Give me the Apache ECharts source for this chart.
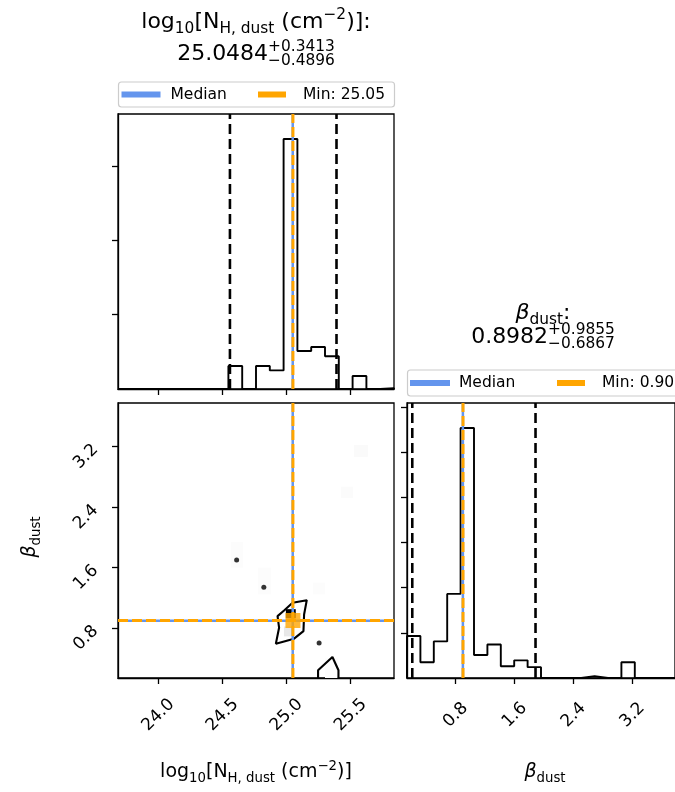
<!DOCTYPE html>
<html><head><meta charset="utf-8">
<script src="https://cdn.jsdelivr.net/npm/echarts@6/dist/echarts.min.js"></script>
<style>html,body{margin:0;padding:0;background:#fff}#c{width:675px;height:792px}</style>
</head><body><div id="c"></div>
<script>
// ---------------- data ----------------
const nhRange = [23.686, 25.838];
const nhCounts = [0,0,0,0,0,0,0,0,0.31,0,0.31,0.25,3.36,0.51,0.565,0.44,0,0.175,0,0.01];
const betaRange = [0.14, 3.776];
const betaCounts = [0.93,0.35,0.81,1.86,5.53,0.51,0.74,0.26,0.39,0.24,0,0,0,0.04,0,0,0.35,0,0,0];
const nhMedian = 25.0484, nhErrUp = 0.3413, nhErrDown = 0.4896;
const betaMedian = 0.8982, betaErrUp = 0.9855, betaErrDown = 0.6867;
const nhBest = 25.05, betaBest = 0.90;
const nhTicks = [24.0, 24.5, 25.0, 25.5];
const betaTicks = [0.8, 1.6, 2.4, 3.2];
const nhHistTicks = [1, 2, 3];
const betaHistTicks = [1, 2, 3, 4, 5, 6];
const contourInner = [[24.981,1.033],[25.047,1.135],[25.158,1.169],[25.137,0.980],[25.132,0.760],[25.059,0.660],[24.917,0.594],[24.942,0.805],[24.930,0.958],[24.981,1.033]];
const contourLower = [[25.246,0.14],[25.246,0.243],[25.358,0.418],[25.405,0.243],[25.405,0.14]];
const contourDots = [[24.611,1.701],[24.823,1.340],[25.254,0.602]];
// density cells: [x0, x1, y0, y1, level 0..1]
const densityCells = [
  [24.995,25.072,0.930,1.050,1.0],
  [24.980,25.058,0.690,0.822,0.09],
  [25.525,25.634,3.064,3.222,0.018],
  [25.424,25.518,2.520,2.670,0.015],
  [24.566,24.660,1.600,1.940,0.012],
  [24.776,24.878,1.244,1.600,0.012],
  [25.205,25.300,1.244,1.400,0.012],
  [25.300,25.400,0.140,0.400,0.012]
];

// ---------------- helpers ----------------
const FF = '"DejaVu Sans", sans-serif';
const BLUE = '#6495ED', ORANGE = '#FFA500';
const ctx = document.createElement('canvas').getContext('2d');
function tw(t, size, italic) { ctx.font = (italic ? 'italic ' : '') + size + 'px ' + FF; return ctx.measureText(t).width; }
function txt(t, x, baseY, size, italic) {
  return {type:'text', x:x, y:baseY - 0.346*size, silent:true,
    style:{text:t, fontSize:size, fontFamily:FF, fontStyle: italic?'italic':'normal', fill:'#000',
      align:'left', verticalAlign:'middle', textAlign:'left', textVerticalAlign:'middle'}};
}
function mathGroup(pieces, S, cx, by, rot) {
  const kids = []; let x = 0;
  pieces.forEach(p => {
    if (p.stack) {
      const s = 0.7*S;
      kids.push(txt(p.stack[0], x, -0.46*S, s, false));
      kids.push(txt(p.stack[1], x, 0.2*S, s, false));
      x += Math.max(tw(p.stack[0], s), tw(p.stack[1], s));
    } else {
      const small = (p.k === 'b' || p.k === 'p');
      const s = small ? 0.7*S : S;
      const shift = p.k === 'b' ? -0.2*S : (p.k === 'p' ? 0.42*S : 0);
      kids.push(txt(p.t, x, -shift, s, p.k === 'i'));
      x += tw(p.t, s, p.k === 'i');
    }
  });
  kids.forEach(k => { k.x -= x/2; });
  return {type:'group', x:cx, y:by, rotation:rot || 0, children:kids};
}
function stepData(range, counts) {
  const n = counts.length, w = (range[1]-range[0])/n;
  const pts = [[range[0], 0]];
  for (let i = 0; i < n; i++) { const a = range[0]+i*w; pts.push([a, counts[i]], [a+w, counts[i]]); }
  pts.push([range[1], 0]);
  return pts;
}
const nhYMax = 1.1*Math.max(...nhCounts);
const betaYMax = 1.1*Math.max(...betaCounts);

const nhLabel = [{t:'log',k:'n'},{t:'10',k:'b'},{t:'[N',k:'n'},{t:'H, dust',k:'b'},{t:' (cm',k:'n'},{t:'\u22122',k:'p'},{t:')]',k:'n'}];
const betaLabel = [{t:'\u03b2',k:'i'},{t:'dust',k:'b'}];
const fmt4 = v => v.toFixed(4);

function lineSeries(name, x, y, data, color, width, type, z) {
  return {type:'line', name:name, xAxisIndex:x, yAxisIndex:y, data:data, symbol:'none', silent:true,
    lineStyle:{color:color, width:width, type:type || 'solid'}, itemStyle:{color:color}, z:z || 2};
}

const axisCommon = {axisLine:{show:true, onZero:false, lineStyle:{color:'#000', width:1.3}}, splitLine:{show:false}};
function xAx(grid, range, ticks, labels) {
  return Object.assign({type:'value', gridIndex:grid, min:range[0], max:range[1], position:'bottom',
    axisTick:{show:true, inside:false, length:6, lineStyle:{color:'#000', width:1.3}, customValues:ticks},
    axisLabel:{show:labels, customValues:ticks, rotate:45, align:'center', verticalAlign:'middle', margin:37,
      fontSize:17, fontFamily:FF, color:'#000', formatter:v => v.toFixed(1)}}, axisCommon);
}
function yAx(grid, range, ticks, labels) {
  return Object.assign({type:'value', gridIndex:grid, min:range[0], max:range[1], position:'left',
    axisTick:{show:true, inside:false, length:6, lineStyle:{color:'#000', width:1.3}, customValues:ticks},
    axisLabel:{show:labels, customValues:ticks, rotate:45, align:'center', verticalAlign:'top', lineHeight:28, margin:42,
      fontSize:17, fontFamily:FF, color:'#000', formatter:v => v.toFixed(1)}}, axisCommon);
}

const series = [];
// NH histogram panel
series.push(lineSeries('q1', 0, 0, [[nhMedian-nhErrDown,0],[nhMedian-nhErrDown,nhYMax]], '#000', 2.6, [10,5], 3));
series.push(lineSeries('q2', 0, 0, [[nhMedian+nhErrUp,0],[nhMedian+nhErrUp,nhYMax]], '#000', 2.6, [10,5], 3));
series.push(lineSeries('histNH', 0, 0, stepData(nhRange, nhCounts), '#000', 1.9, 'solid', 4));
series.push(lineSeries('Median', 0, 0, [[nhMedian,0],[nhMedian,nhYMax]], BLUE, 2.5, 'solid', 5));
series.push(lineSeries('Min: ' + nhBest.toFixed(2), 0, 0, [[nhBest,0],[nhBest,nhYMax]], ORANGE, 3, [10,4], 6));
// beta histogram panel
series.push(lineSeries('q3', 2, 2, [[betaMedian-betaErrDown,0],[betaMedian-betaErrDown,betaYMax]], '#000', 2.6, [10,5], 3));
series.push(lineSeries('q4', 2, 2, [[betaMedian+betaErrUp,0],[betaMedian+betaErrUp,betaYMax]], '#000', 2.6, [10,5], 3));
series.push(lineSeries('histB', 2, 2, stepData(betaRange, betaCounts), '#000', 1.9, 'solid', 4));
series.push(lineSeries('Median', 2, 2, [[betaMedian,0],[betaMedian,betaYMax]], BLUE, 2.5, 'solid', 5));
series.push(lineSeries('Min: ' + betaBest.toFixed(2), 2, 2, [[betaBest,0],[betaBest,betaYMax]], ORANGE, 3, [10,4], 6));
// 2D panel
series.push({type:'custom', name:'density', xAxisIndex:1, yAxisIndex:1, silent:true, z:1, data:densityCells,
  renderItem:(params, api) => {
    const p0 = api.coord([api.value(0), api.value(3)]);
    const p1 = api.coord([api.value(1), api.value(2)]);
    const g = Math.round(255*(1-api.value(4)));
    return {type:'rect', shape:{x:p0[0], y:p0[1], width:p1[0]-p0[0], height:p1[1]-p0[1]},
      style:{fill:'rgb('+g+','+g+','+g+')'}};
  }, clip:true});
series.push(lineSeries('c1', 1, 1, contourInner, '#000', 2.1, 'solid', 3));
series.push(lineSeries('c2', 1, 1, contourLower, '#000', 2.1, 'solid', 3));
series.push({type:'scatter', name:'dots', xAxisIndex:1, yAxisIndex:1, data:contourDots, symbol:'circle', symbolSize:5,
  itemStyle:{color:'#000'}, silent:true, z:3});
series.push(lineSeries('m2dv', 1, 1, [[nhMedian,betaRange[0]],[nhMedian,betaRange[1]]], BLUE, 2.5, 'solid', 5));
series.push(lineSeries('m2dh', 1, 1, [[nhRange[0],betaMedian],[nhRange[1],betaMedian]], BLUE, 2.5, 'solid', 5));
series.push(lineSeries('b2dv', 1, 1, [[nhBest,betaRange[0]],[nhBest,betaRange[1]]], ORANGE, 3, [10,4], 6));
series.push(lineSeries('b2dh', 1, 1, [[nhRange[0],betaBest],[nhRange[1],betaBest]], ORANGE, 3, [10,4], 6));
series.push({type:'scatter', name:'best', xAxisIndex:1, yAxisIndex:1, data:[[nhBest, betaBest]], symbol:'rect', symbolSize:15,
  itemStyle:{color:ORANGE}, silent:true, z:7});

function legendItem(name, left, top, w, color, textPad) {
  return {data:[{name:name, icon:'rect', itemStyle:{color:color}}], left:left, top:top, padding:0,
    itemWidth:w, itemHeight:6, selectedMode:false, orient:'horizontal',
    textStyle:{fontSize:15.5, fontFamily:FF, color:'#000', padding:[0,0,0,textPad], lineHeight:18}};
}

const graphicEls = [
  {type:'rect', shape:{x:118.5, y:82, width:276, height:25, r:3}, style:{fill:'#fff', stroke:'#cccccc', lineWidth:1.2}, z:-1, silent:true},
  {type:'rect', shape:{x:407.5, y:370, width:290, height:26, r:3}, style:{fill:'#fff', stroke:'#cccccc', lineWidth:1.2}, z:-1, silent:true},
  mathGroup(nhLabel.concat([{t:':',k:'n'}]), 22, 256, 30),
  mathGroup([{t:fmt4(nhMedian),k:'n'},{stack:['+'+fmt4(nhErrUp), '\u2212'+fmt4(nhErrDown)]}], 22, 256, 62),
  mathGroup(betaLabel.concat([{t:':',k:'n'}]), 22, 543, 321),
  mathGroup([{t:fmt4(betaMedian),k:'n'},{stack:['+'+fmt4(betaErrUp), '\u2212'+fmt4(betaErrDown)]}], 22, 543, 345),
  mathGroup(nhLabel, 19, 256, 779),
  mathGroup(betaLabel, 19, 545, 779),
  mathGroup(betaLabel, 19, 37, 537, Math.PI/2)
];

const chart = echarts.init(document.getElementById('c'), null, {renderer:'canvas'});
chart.setOption({
  animation:false,
  backgroundColor:'#fff',
  grid:[
    {left:118, top:114, width:276, height:275, show:true, borderColor:'#000', borderWidth:1.3, backgroundColor:'transparent'},
    {left:118, top:403, width:276, height:275, show:true, borderColor:'#000', borderWidth:1.3, backgroundColor:'transparent'},
    {left:407, top:403, width:276, height:275, show:true, borderColor:'#000', borderWidth:1.3, backgroundColor:'transparent'}
  ],
  xAxis:[ xAx(0, nhRange, nhTicks, false), xAx(1, nhRange, nhTicks, true), xAx(2, betaRange, betaTicks, true) ],
  yAxis:[ yAx(0, [0, nhYMax], nhHistTicks, false), yAx(1, betaRange, betaTicks, true), yAx(2, [0, betaYMax], betaHistTicks, false) ],
  legend:[
    legendItem('Median', 121.5, 85.5, 39, BLUE, 5),
    legendItem('Min: ' + nhBest.toFixed(2), 258, 85.5, 28, ORANGE, 12),
    legendItem('Median', 410, 374, 40, BLUE, 4),
    legendItem('Min: ' + betaBest.toFixed(2), 557, 374, 28, ORANGE, 12)
  ],
  graphic:{elements:graphicEls},
  series:series
});
</script>
</body></html>
